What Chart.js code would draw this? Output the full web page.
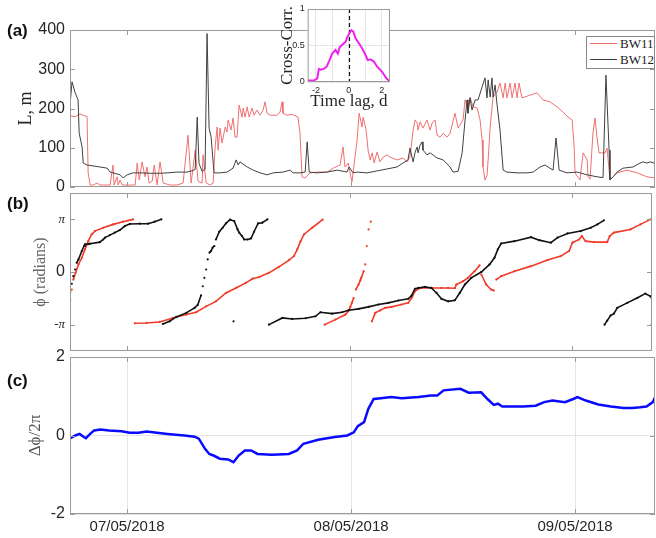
<!DOCTYPE html>
<html>
<head>
<meta charset="utf-8">
<script src="https://cdn.jsdelivr.net/npm/chart.js@4.4.0/dist/chart.umd.min.js"></script>
<style>
  body { margin: 0; background: #fff; width: 656px; height: 538px; position: relative; overflow: hidden;
         font-family: "Liberation Sans", Arial, sans-serif; }
  canvas { position: absolute; left: 0; }
  .plab { position: absolute; left: 7px; font-weight: bold; font-size: 17px; line-height: 20px; color: #111; }
  #legend { position: absolute; left: 586px; top: 36px; width: 67px; height: 31px; border: 1px solid #888;
            background: #fff; font-family: "Liberation Serif", serif; font-size: 13px; color: #222; }
  #legend .ln { position: absolute; left: 3px; width: 27px; border-top: 1px solid; }
  #legend .lt { position: absolute; left: 33px; line-height: 15px; }
</style>
</head>
<body>
<canvas id="cb" width="656" height="166" style="top:189px"></canvas>
<canvas id="cc" width="656" height="196" style="top:342px"></canvas>
<canvas id="ca" width="656" height="200" style="top:0"></canvas>
<canvas id="ci" width="127" height="112" style="left:265px;top:0"></canvas>
<div class="plab" style="top:21px">(a)</div>
<div class="plab" style="top:194px">(b)</div>
<div class="plab" style="top:371px">(c)</div>
<div id="legend">
  <span class="ln" style="top:6px;border-color:#f07070"></span><span class="lt" style="top:-1px">BW11</span>
  <span class="ln" style="top:22px;border-color:#404040"></span><span class="lt" style="top:15px">BW12</span>
</div>
<script>
// time axis: days since 07/05/2018 00:00
const xMin = -0.255, xMax = 2.357;
const dayTicks = [0, 1, 2];
const dayLabels = ['07/05/2018', '08/05/2018', '09/05/2018'];

// (a) length scale L, m
const lTicks = [0, 100, 200, 300, 400];
const bw12T = [-0.254,-0.246,-0.232,-0.219,-0.214,-0.201,-0.196,-0.179,-0.121,-0.089,
  -0.076,-0.031,-0.018,0,0.027,0.058,0.103,0.147,0.179,0.223,
  0.268,0.295,0.304,0.313,0.321,0.335,0.348,0.357,0.366,0.375,
  0.388,0.415,0.446,0.473,0.487,0.496,0.504,0.536,0.563,0.594,
  0.625,0.652,0.696,0.728,0.741,0.772,0.795,0.804,0.813,0.848,
  0.893,0.938,0.982,0.991,1.009,1.027,1.071,1.116,1.161,1.205,
  1.232,1.254,1.263,1.277,1.286,1.295,1.299,1.308,1.317,1.321,
  1.339,1.353,1.384,1.411,1.442,1.455,1.478,1.496,1.509,1.518,
  1.522,1.531,1.540,1.554,1.567,1.585,1.598,1.607,1.612,1.621,
  1.629,1.634,1.643,1.652,1.665,1.679,1.696,1.741,1.786,1.813,
  1.844,1.866,1.888,1.902,1.915,1.929,1.964,2.009,2.054,2.098,
  2.125,2.138,2.152,2.156,2.170,2.188,2.214,2.259,2.290,2.304,
  2.321,2.335,2.353];
const bw12L = [214,268,240,222,137,102,61,56,51,48,
  38,31,23,31,36,36,35,35,36,38,
  38,42,45,178,60,40,45,391,150,128,
  36,36,38,48,69,56,64,51,43,36,
  31,36,38,43,36,36,38,115,38,36,
  38,43,38,51,36,38,36,41,46,51,
  61,69,99,64,89,102,87,107,115,94,
  82,87,74,69,51,38,40,87,171,222,
  188,227,196,222,222,255,278,227,273,229,
  278,229,260,209,145,43,38,36,36,38,
  51,56,48,43,125,43,36,38,31,26,
  24,285,94,18,26,38,48,51,61,64,
  61,64,61];
const bw11T = [-0.254,-0.232,-0.210,-0.188,-0.179,-0.174,-0.165,-0.152,-0.134,-0.121,
  -0.076,-0.063,-0.058,-0.045,-0.040,-0.031,-0.022,0.036,0.045,0.054,
  0.067,0.080,0.089,0.098,0.112,0.121,0.134,0.147,0.161,0.192,
  0.223,0.250,0.272,0.286,0.304,0.317,0.335,0.339,0.353,0.371,
  0.384,0.393,0.402,0.406,0.415,0.424,0.438,0.446,0.451,0.464,
  0.473,0.482,0.491,0.500,0.513,0.518,0.527,0.536,0.545,0.558,
  0.567,0.580,0.594,0.607,0.616,0.625,0.638,0.670,0.683,0.692,
  0.696,0.714,0.737,0.763,0.772,0.781,0.795,0.817,0.848,0.893,
  0.920,0.951,0.964,0.973,0.987,1.004,1.009,1.027,1.036,1.049,
  1.054,1.067,1.076,1.085,1.094,1.103,1.116,1.129,1.143,1.161,
  1.174,1.205,1.232,1.250,1.263,1.277,1.286,1.295,1.299,1.308,
  1.321,1.339,1.353,1.362,1.375,1.384,1.397,1.411,1.429,1.442,
  1.464,1.478,1.500,1.509,1.522,1.531,1.545,1.563,1.576,1.585,
  1.589,1.598,1.607,1.612,1.621,1.634,1.652,1.665,1.679,1.688,
  1.696,1.710,1.719,1.732,1.741,1.750,1.763,1.799,1.830,1.857,
  1.888,1.920,1.946,1.969,1.987,1.996,2.000,2.022,2.036,2.054,
  2.058,2.067,2.080,2.089,2.098,2.107,2.134,2.143,2.156,2.188,
  2.232,2.277,2.321,2.357];
const bw11L = [181,179,186,181,180,36,5,5,10,5,
  5,56,5,26,5,18,5,5,61,18,
  64,26,51,10,15,56,5,64,10,5,
  5,10,132,10,94,15,10,82,10,5,
  10,102,153,94,150,112,153,140,171,145,
  176,127,127,209,178,201,178,204,178,201,
  183,196,183,196,217,188,183,183,191,217,
  188,183,185,178,137,26,23,36,38,38,
  48,56,102,51,61,13,36,120,188,153,
  178,145,94,69,87,61,89,64,76,82,
  76,69,74,64,76,145,171,163,145,166,
  150,171,145,163,171,132,127,137,127,137,
  188,150,171,222,196,229,204,201,171,120,
  51,18,30,69,153,229,242,265,227,265,
  227,265,227,265,227,265,227,234,240,222,
  217,204,191,178,171,102,36,18,87,69,
  26,20,137,176,127,87,87,99,18,36,
  43,36,26,23];

// inset: cross-correlation vs time lag
const lagTicks = [-2, -1, 0, 1, 2];
const lagLabels = ['-2', '', '0', '', '2'];
const ccTicks = [0, 0.5, 1];
const ccLabels = ['0', '0.5', '1'];
const lagD = [-2.5,-2.12,-1.92,-1.82,-1.72,-1.52,-1.35,-1.21,-1.01,-0.81,-0.67,-0.55,-0.4,-0.2,-0.1,
  0.04,0.15,0.27,0.41,0.61,0.81,1.01,1.15,1.32,1.52,1.72,2.02,2.28,2.48];
const xcorr = [0.02,0.02,0.05,0.18,0.17,0.18,0.21,0.28,0.39,0.44,0.39,0.48,0.51,0.55,0.61,
  0.67,0.71,0.69,0.6,0.53,0.46,0.37,0.30,0.31,0.28,0.21,0.14,0.05,0.01];

// (b) wrapped phase, one sub-array per wrap
const phiTicks = [-Math.PI, 0, Math.PI];
const phiLabels = ['-\u03c0', '0', '\u03c0'];
const bw11PhT = [
  [-0.254,-0.247,-0.240,-0.230,-0.217,-0.202,-0.188,-0.173,-0.158,-0.143,-0.106,-0.061,-0.017,0.028],
  [0.036,0.088,0.147,0.207,0.267,0.311,0.356,0.400,0.445,0.490,0.534,0.564,0.594,0.638,0.683,0.728,0.750,0.765,0.780,0.795,0.832,0.879],
  [0.888,0.936,0.981,0.996,1.003,1.010,1.018,1.028,1.040,1.048,1.052,1.063,1.070,1.077,1.085,1.095],
  [1.100,1.115,1.137,1.159,1.189,1.233,1.263,1.278,1.293,1.308,1.323,1.367,1.412,1.442,1.472,1.479,1.509,1.531,1.561,1.583,
   1.591,1.613,1.635,1.647,1.658,1.680,1.740,1.814,1.888,1.948,1.985,2.000,2.030,2.042,2.059,2.097,2.156,2.167,2.186,2.260,2.305,2.350],
  [2.355]
];
const bw11Ph = [
  [-1.65,-1.05,-0.45,-0.05,0.45,0.85,1.35,1.84,2.24,2.44,2.64,2.84,3.0,3.14],
  [-3.06,-3.04,-2.98,-2.74,-2.54,-2.4,-2.05,-1.75,-1.25,-0.95,-0.65,-0.4,-0.3,-0.05,0.31,0.71,0.95,1.35,1.84,2.24,2.64,3.12],
  [-3.14,-2.84,-2.54,-2.3,-2.1,-1.84,-1.55,-1.05,-0.75,-0.5,-0.35,0.05,0.45,1.55,2.54,3.0],
  [-2.94,-2.44,-2.29,-2.14,-2.08,-1.94,-1.84,-1.55,-1.15,-1.0,-0.95,-0.95,-0.95,-0.95,-0.97,-0.75,-0.55,-0.35,0.05,0.39,
   -0.15,-0.75,-1.05,-1.11,-0.45,-0.25,0.05,0.35,0.71,0.95,1.25,1.75,1.94,2.14,1.84,1.78,1.78,2.14,2.35,2.54,2.84,3.14],
  [-3.14]
];
const bw12PhT = [
  [-0.254,-0.247,-0.240,-0.232,-0.225,-0.217,-0.202,-0.192,-0.188,-0.173,-0.165,-0.121,-0.106,-0.098,-0.076,-0.054,-0.031,-0.009,0.013,0.058,0.095,0.125,0.155],
  [0.162,0.192,0.222,0.267,0.304,0.318,0.333,0.341,0.348,0.356,0.363,0.371,0.378,0.385,0.393,0.400,0.415,0.430,0.445,0.463,0.482,0.497,0.504,0.517,0.527,0.542,0.557,0.571,0.589,0.608,0.631],
  [0.479],
  [0.638,0.698,0.742,0.802,0.847,0.869,0.921,0.966,0.996,1.040,1.085,1.129,1.174,1.219,1.263,1.278,1.293,1.308,1.338,1.367,1.390,1.412,1.442,1.472,1.494,1.517,1.546,1.591,1.628,1.650,1.665,1.680,1.740,1.814,1.851,1.903,1.933,1.978,2.037,2.082,2.112,2.141],
  [2.144,2.156,2.171,2.186,2.201,2.246,2.290,2.327,2.350,2.357]
];
const bw12Ph = [
  [-1.2,-0.7,-0.25,0.15,0.55,0.75,1.25,1.55,1.65,1.66,1.69,1.78,1.94,2.05,2.2,2.35,2.5,2.74,2.86,2.88,2.88,3.0,3.14],
  [-3.1,-2.94,-2.68,-2.44,-2.14,-1.97,-1.4,-0.85,-0.35,0.15,0.75,1.15,1.25,1.45,1.55,1.94,2.4,2.64,2.9,3.12,3.04,2.54,2.35,2.14,1.94,1.94,2.0,2.4,2.9,2.94,3.14],
  [-2.94],
  [-3.14,-2.74,-2.8,-2.76,-2.64,-2.4,-2.48,-2.4,-2.28,-2.2,-2.08,-1.94,-1.84,-1.7,-1.6,-1.41,-1.0,-0.95,-0.89,-0.95,-1.25,-1.6,-1.75,-1.69,-1.25,-0.75,-0.35,0.0,0.45,0.85,1.35,1.7,1.84,2.08,1.9,1.75,2.05,2.3,2.44,2.64,2.84,3.08],
  [-3.14,-2.9,-2.6,-2.48,-2.14,-1.84,-1.55,-1.29,-1.45,-1.6]
];

// (c) phase difference / 2pi
const dTicks = [-2, 0, 2];
const dT = [-0.253,-0.231,-0.212,-0.193,-0.184,-0.165,-0.147,-0.119,-0.081,-0.025,0.012,0.050,0.087,0.180,0.255,
  0.302,0.320,0.348,0.367,0.386,0.414,0.451,0.475,0.498,0.526,0.554,0.582,0.647,0.722,0.759,0.787,0.853,0.927,
  0.983,1.012,1.030,1.058,1.077,1.101,1.133,1.179,1.226,1.301,1.357,1.385,1.413,1.488,1.525,1.581,1.609,1.637,
  1.656,1.675,1.768,1.824,1.862,1.899,1.955,1.992,2.011,2.048,2.104,2.160,2.216,2.254,2.291,2.319,2.347,2.357];
const dPhi = [-0.07,0,0.04,-0.04,-0.07,0.04,0.13,0.15,0.13,0.11,0.07,0.07,0.10,0.04,0,
  -0.03,-0.08,-0.34,-0.47,-0.51,-0.59,-0.61,-0.68,-0.51,-0.38,-0.38,-0.47,-0.49,-0.47,-0.38,-0.21,-0.11,-0.04,
  0,0.08,0.24,0.34,0.68,0.93,0.95,0.98,0.95,0.98,1.02,1.02,1.15,1.19,1.09,1.10,0.93,0.78,
  0.81,0.74,0.74,0.76,0.85,0.89,0.85,0.93,0.98,0.89,0.79,0.74,0.70,0.70,0.72,0.74,0.85,0.97];

const sans = '"Liberation Sans", Arial, sans-serif';
const serif = '"Liberation Serif", "Times New Roman", serif';
const tickCol = '#262626';
Chart.defaults.font.family = sans;

const xy = (t, v) => t.map((x, i) => ({x: x, y: v[i]}));
const fixedTicks = vals => s => { s.ticks = vals.map(v => ({value: v})); };
// fixed axis width, and no extra room reserved for half tick labels
const leftW = w => s => { s.width = w; s.paddingTop = 0; s.paddingBottom = 0; };
// steep jumps are only sampled as separate dots in the original
const steep = c => Math.abs(c.p1.y - c.p0.y) > 2.5 * Math.abs(c.p1.x - c.p0.x) + 2;

// box, inward ticks, optional white fill and dashed zero-lag line
const frame = {
  id: 'frame',
  beforeDraw(chart, args, o) {
    if (!o.fill) return;
    const {ctx, chartArea: a} = chart;
    ctx.save(); ctx.fillStyle = o.fill; ctx.fillRect(a.left, a.top, a.width, a.height); ctx.restore();
  },
  beforeDatasetsDraw(chart, args, o) {
    if (o.zero === undefined) return;
    const {ctx, chartArea: a, scales} = chart;
    const x = Math.round(scales.x.getPixelForValue(o.zero)) + 0.5;
    ctx.save(); ctx.strokeStyle = '#111'; ctx.lineWidth = 1.2; ctx.setLineDash([4, 3]);
    ctx.beginPath(); ctx.moveTo(x, a.top); ctx.lineTo(x, a.bottom); ctx.stroke(); ctx.restore();
  },
  afterDraw(chart, args, o) {
    const {ctx, chartArea: a, scales} = chart;
    const t = o.tick || 5;
    ctx.save();
    ctx.strokeStyle = '#9a9a9a'; ctx.lineWidth = 1;
    ctx.strokeRect(a.left + 0.5, a.top + 0.5, a.width - 1, a.height - 1);
    ctx.beginPath();
    (o.xt || []).forEach(v => {
      const x = Math.round(scales.x.getPixelForValue(v)) + 0.5;
      ctx.moveTo(x, a.top); ctx.lineTo(x, a.top + t);
      ctx.moveTo(x, a.bottom); ctx.lineTo(x, a.bottom - t);
    });
    (o.yt || []).forEach(v => {
      const y = Math.round(scales.y.getPixelForValue(v)) + 0.5;
      ctx.moveTo(a.left, y); ctx.lineTo(a.left + t, y);
      ctx.moveTo(a.right, y); ctx.lineTo(a.right - t, y);
    });
    ctx.stroke(); ctx.restore();
  }
};

function baseOpts(pad, frameOpts, scales) {
  return {
    responsive: false, animation: false, events: [],
    layout: {padding: pad},
    plugins: {legend: {display: false}, tooltip: {enabled: false}, frame: frameOpts},
    scales: scales
  };
}

// panel (a)
new Chart(document.getElementById('ca'), {
  type: 'line',
  data: {datasets: [
    {data: xy(bw12T, bw12L), borderColor: '#404040', borderWidth: 1, pointRadius: 0},
    {data: xy(bw11T, bw11L), borderColor: '#f07070', borderWidth: 1, pointRadius: 0}
  ]},
  options: baseOpts({top: 30, bottom: 13, left: 0, right: 1}, {xt: dayTicks, yt: lTicks}, {
    x: {type: 'linear', min: xMin, max: xMax, display: false},
    y: {min: 0, max: 400, afterBuildTicks: fixedTicks(lTicks), afterFit: leftW(70),
        grid: {display: false, drawTicks: false}, border: {display: false},
        ticks: {font: {family: sans, size: 16}, color: tickCol, padding: 5},
        title: {display: true, text: 'L, m', font: {family: serif, size: 18}, color: tickCol, padding: {top: 15, bottom: 0}}}
  }),
  plugins: [frame]
});

// panel (b)
function phaseSets(T, P, col) {
  return T.map((t, k) => ({
    data: xy(t, P[k]), borderColor: col, borderWidth: 1.6,
    pointRadius: 1.1, pointBorderWidth: 0, pointBackgroundColor: col,
    segment: {borderColor: c => steep(c) ? 'rgba(0,0,0,0)' : undefined}
  }));
}
new Chart(document.getElementById('cb'), {
  type: 'line',
  data: {datasets: phaseSets(bw12PhT, bw12Ph, '#111111').concat(phaseSets(bw11PhT, bw11Ph, '#f03a2a'))},
  options: baseOpts({top: 4, bottom: 4, left: 0, right: 1}, {xt: dayTicks, yt: phiTicks}, {
    x: {type: 'linear', min: xMin, max: xMax, display: false},
    y: {min: -1.5 * Math.PI, max: 1.5 * Math.PI, afterBuildTicks: fixedTicks(phiTicks), afterFit: leftW(70),
        grid: {display: false, drawTicks: false}, border: {display: false},
        ticks: {callback: (v, i) => phiLabels[i], color: tickCol, padding: 5,
                font: c => (c.index === 1 ? {family: sans, size: 16} : {family: serif, size: 13, style: 'italic'})},
        title: {display: true, text: '\u03d5 (radians)', font: {family: serif, size: 16}, color: '#666', padding: {top: 31, bottom: 0}}}
  }),
  plugins: [frame]
});

// panel (c)
new Chart(document.getElementById('cc'), {
  type: 'line',
  data: {datasets: [
    {data: xy(dT, dPhi), borderColor: '#0a0aff', borderWidth: 2.5, pointRadius: 0}
  ]},
  options: baseOpts({top: 15, bottom: 0, left: 0, right: 1}, {xt: dayTicks, yt: dTicks}, {
    x: {type: 'linear', min: xMin, max: xMax, afterBuildTicks: fixedTicks(dayTicks), afterFit: s => { s.height = 24; },
        grid: {color: '#e4e4e4', drawTicks: false}, border: {display: false},
        ticks: {callback: (v, i) => dayLabels[i], font: {family: sans, size: 15}, color: tickCol,
                padding: 4, maxRotation: 0, autoSkip: false}},
    y: {min: -2, max: 2, afterBuildTicks: fixedTicks(dTicks), afterFit: leftW(70),
        grid: {color: '#e4e4e4', drawTicks: false}, border: {display: false},
        ticks: {font: {family: sans, size: 16}, color: tickCol, padding: 5},
        title: {display: true, text: '\u0394\u03d5/2\u03c0', font: {family: serif, size: 17}, color: '#555', padding: {top: 25, bottom: 0}}}
  }),
  plugins: [frame]
});

// inset
new Chart(document.getElementById('ci'), {
  type: 'line',
  data: {datasets: [
    {data: xy(lagD, xcorr), borderColor: '#ee22ee', borderWidth: 2, pointRadius: 0}
  ]},
  options: baseOpts({top: 9, bottom: 0, left: 0, right: 2}, {fill: '#fff', zero: 0, tick: 2}, {
    x: {type: 'linear', min: -2.5, max: 2.5, afterBuildTicks: fixedTicks(lagTicks), afterFit: s => { s.height = 30; },
        grid: {color: '#e6e6e6', drawTicks: false}, border: {display: false},
        ticks: {callback: (v, i) => lagLabels[i], font: {family: sans, size: 9}, color: tickCol, padding: 3, maxRotation: 0, autoSkip: false},
        title: {display: true, text: 'Time lag, d', font: {family: serif, size: 17}, color: tickCol, padding: {top: 0, bottom: 0}}},
    y: {min: 0, max: 1, afterBuildTicks: fixedTicks(ccTicks), afterFit: leftW(42.7),
        grid: {color: '#e6e6e6', drawTicks: false}, border: {display: false},
        ticks: {callback: (v, i) => ccLabels[i], font: {family: sans, size: 9}, color: tickCol, padding: 3},
        title: {display: true, text: 'Cross-Corr.', font: {family: serif, size: 17}, color: tickCol, padding: {top: 12, bottom: 0}}}
  }),
  plugins: [frame]
});
</script>
</body>
</html>
